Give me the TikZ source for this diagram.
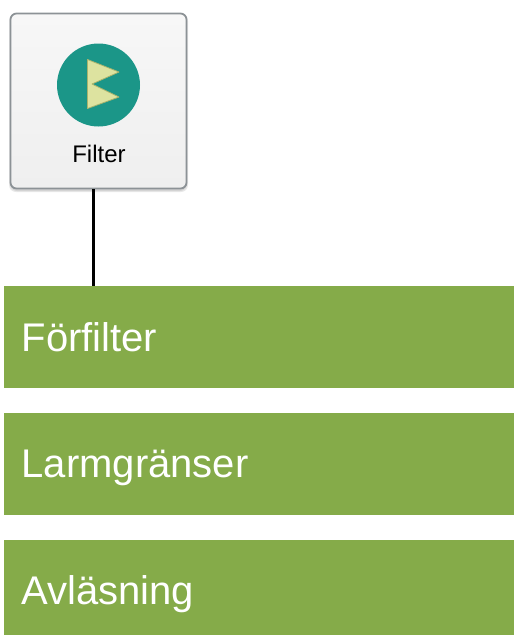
\documentclass[tikz,border=0pt]{standalone}
\usepackage{fontspec}
\setmainfont{Liberation Sans}
\definecolor{boxgreen}{HTML}{85AB49}
\definecolor{teal}{HTML}{1B9688}
\definecolor{flagfill}{HTML}{DDE3A0}
\definecolor{flagedge}{HTML}{A9B36C}
\definecolor{cardedge}{HTML}{8C9296}
\definecolor{cardtop}{HTML}{F7F7F7}
\definecolor{cardbottom}{HTML}{EFEFEF}
\tikzset{
  band/.style={fill=boxgreen,draw=none,inner sep=0pt,minimum width=510pt,anchor=north west},
  bandtext/.style={text=white,font=\fontsize{40}{40}\selectfont,inner sep=0pt,anchor=base west},
  card/.style={rounded corners=6pt,draw=cardedge,line width=1.8pt,top color=cardtop,bottom color=cardbottom,minimum width=176pt,minimum height=175pt,inner sep=0pt},
  cardshadow/.style={rounded corners=7pt,fill=black,opacity=0.09,draw=none},
  link/.style={draw=black,line width=2.8pt},
  cardtext/.style={font=\fontsize{24}{24}\selectfont,text=black,inner sep=0pt,anchor=base}
}
\begin{document}
\begin{tikzpicture}[x=1pt,y=-1pt]
\useasboundingbox (0,0) rectangle (514,635);
\fill[cardshadow] (9,14) rectangle (188,192);
\fill[cardshadow] (10,14) rectangle (187,191);
\node[card] (card) at (98.5,101) {};
\node[circle,fill=teal,minimum size=83pt,inner sep=0pt] (icon) at (98.5,85) {};
\filldraw[fill=flagfill,draw=flagedge,line width=0.8pt,line join=round]
  (87.5,59.5) -- (119,72) -- (92,84) -- (119,97) -- (87.5,108.5) -- cycle;
\node[cardtext] (cardlabel) at (99,162) {Filter};
\node[band,minimum height=102pt] (boxa) at (4,286) {};
\node[band,minimum height=102pt] (boxb) at (4,413) {};
\node[band,minimum height=95pt] (boxc) at (4,540) {};
\node[bandtext] (ta) at (21.5,351.5) {Förfilter};
\node[bandtext] (tb) at (21.5,477.5) {Larmgränser};
\node[bandtext] (tc) at (21,604.5) {Avläsning};
\draw[link] ([xshift=-5pt]card.south) -- ([xshift=-5pt]card.south |- boxa.north);
\end{tikzpicture}
\end{document}
